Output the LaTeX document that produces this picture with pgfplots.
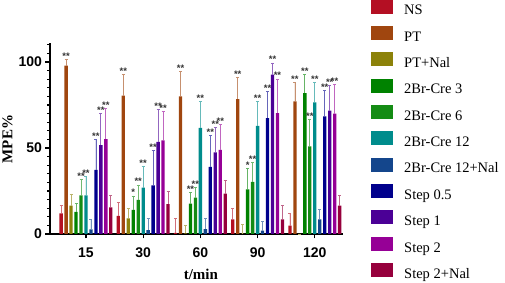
\documentclass[border=0pt]{standalone}
\usepackage{fontspec}
\setmainfont{Liberation Serif}
\setsansfont{Liberation Sans}
\usepackage{pgfplots}
\usepackage{pgfplotstable}
\pgfplotsset{compat=1.18}

\definecolor{cNS}{RGB}{180,15,35}
\definecolor{cPT}{RGB}{160,70,15}
\definecolor{cPN}{RGB}{140,130,10}
\definecolor{cBa}{RGB}{0,130,0}
\definecolor{cBb}{RGB}{20,140,20}
\definecolor{cBc}{RGB}{0,140,140}
\definecolor{cBn}{RGB}{20,70,140}
\definecolor{cSa}{RGB}{0,0,140}
\definecolor{cSb}{RGB}{75,0,150}
\definecolor{cSc}{RGB}{150,0,150}
\definecolor{cSn}{RGB}{150,0,60}

\pgfplotstableread{
g  NS  eNS  PT  ePT  PN  ePN  Ba  eBa  Bb  eBb  Bc  eBc  Bn  eBn  Sa  eSa  Sb  eSb  Sc  eSc  Sn  eSn
0 12.0 4.7 97.9 3.5 16.5 6.8 12.8 4.9 22.5 9.3 22.5 10.9 2.7 5.8 37.3 17.8 51.7 18.2 55.1 18.1 15.5 7.0
1 10.5 7.9 80.4 12.2 9.1 5.7 14.0 8.1 19.8 8.7 27.0 12.2 2.3 6.8 28.2 20.1 53.6 18.6 54.4 16.7 17.3 7.7
2 0.6 8.5 80.0 14.4 0.4 4.5 17.7 6.4 21.2 5.8 61.7 15.4 2.9 6.0 39.0 18.5 47.4 14.7 48.9 14.6 23.5 7.6
3 8.5 6.6 78.4 12.5 0.2 5.4 26.0 11.9 30.3 11.4 62.9 14.2 1.9 5.3 67.4 15.3 92.6 6.8 70.3 19.8 8.5 8.0
4 4.9 7.1 77.1 11.2 0 0 81.9 10.7 50.9 15.5 76.5 11.8 8.5 5.9 68.3 15.2 71.7 14.7 69.9 16.9 16.5 5.8
}\data

\pgfplotstableread{
x y l
-0.3476 101.4 **
-0.0869 31.8 **
0.0 33.4 **
0.1738 55.1 **
0.2607 69.9 **
0.3476 73.2 **
0.6524 92.6 **
0.8262 22.1 *
0.9131 28.5 **
1.0 39.2 **
1.1738 48.3 **
1.2607 72.2 **
1.3476 71.1 **
1.6524 94.4 **
1.8262 24.1 **
1.9131 27.0 **
2.0 77.1 **
2.1738 57.5 **
2.2607 62.1 **
2.3476 63.5 **
2.6524 90.9 **
2.8262 37.9 *
2.9131 41.7 **
3.0 77.1 **
3.1738 82.7 **
3.2607 99.4 **
3.3476 90.1 **
3.6524 88.3 **
3.8262 92.6 **
3.9131 66.4 **
4.0 88.3 **
4.1738 83.5 **
4.2607 86.4 **
4.3476 86.8 **
}\stars

\newcommand{\barplot}[4]{%
\addplot[ybar, bar width=0.058, bar shift=0pt, fill=#1, draw=none, forget plot,
  error bars/.cd, y dir=plus, y explicit,
  error bar style={draw=#1!60!white, line width=0.8pt},
  error mark options={rotate=90, mark size=1.5pt, draw=#1!60!white, line width=0.8pt}]
  table[x expr=\thisrow{g}+#2, y=#3, y error=#4] {\data};}

\begin{document}
\begin{tikzpicture}
\begin{axis}[
  scale only axis, width=293pt, height=191pt,
  xmin=-0.629, xmax=4.493, ymin=0, ymax=111,
  clip=false,
  axis x line*=bottom, axis y line*=left,
  axis line style={line width=1.3pt},
  xtick={0,1,2,3,4}, xticklabels={15,30,60,90,120},
  ytick={0,50,100}, minor ytick={5,10,...,110},
  tick align=outside,
  tick style={line width=1.2pt, black},
  major tick length=4.5pt, minor tick length=2.5pt,
  /pgf/number format/assume math mode=true,
  ticklabel style={font=\fontsize{14}{14}\selectfont\sffamily\bfseries},
  xticklabel style={yshift=-6pt},
  ylabel={MPE\%}, xlabel={t/min},
  label style={font=\fontsize{15}{15}\selectfont\bfseries},
  ylabel style={at={(axis description cs:-0.145,0.497)}, anchor=center},
  xlabel style={at={(axis description cs:0.515,-0.213)}, anchor=center},
  legend image code/.code={\fill[#1] (0pt,-2.2pt) rectangle (22pt,11.8pt);},
  legend style={draw=none, fill=none, inner sep=0pt, at={(axis description cs:1.0956,1.228)}, anchor=north west,
    font=\fontsize{14.5}{14.5}\selectfont, row sep=7.95pt,
    nodes={inner sep=0pt, text height=10pt, text depth=3.2pt},
    /tikz/every odd column/.append style={column sep=11pt}},
  legend cell align=left,
]
\barplot{cNS}{-0.4345}{NS}{eNS}
\barplot{cPT}{-0.3476}{PT}{ePT}
\barplot{cPN}{-0.2607}{PN}{ePN}
\barplot{cBa}{-0.1738}{Ba}{eBa}
\barplot{cBb}{-0.0869}{Bb}{eBb}
\barplot{cBc}{0}{Bc}{eBc}
\barplot{cBn}{0.0869}{Bn}{eBn}
\barplot{cSa}{0.1738}{Sa}{eSa}
\barplot{cSb}{0.2607}{Sb}{eSb}
\barplot{cSc}{0.3476}{Sc}{eSc}
\barplot{cSn}{0.4345}{Sn}{eSn}
\addplot[only marks, mark=none, forget plot, nodes near coords, point meta=explicit symbolic,
  nodes near coords style={anchor=base, inner sep=0pt, font=\fontsize{9.5}{9.5}\selectfont\sffamily\bfseries, text=black!80}]
  table[x=x, y=y, meta=l] {\stars};
\addlegendimage{fill=cNS, draw=none}\addlegendentry{NS}
\addlegendimage{fill=cPT, draw=none}\addlegendentry{PT}
\addlegendimage{fill=cPN, draw=none}\addlegendentry{PT+Nal}
\addlegendimage{fill=cBa, draw=none}\addlegendentry{2Br-Cre 3}
\addlegendimage{fill=cBb, draw=none}\addlegendentry{2Br-Cre 6}
\addlegendimage{fill=cBc, draw=none}\addlegendentry{2Br-Cre 12}
\addlegendimage{fill=cBn, draw=none}\addlegendentry{2Br-Cre 12+Nal}
\addlegendimage{fill=cSa, draw=none}\addlegendentry{Step 0.5}
\addlegendimage{fill=cSb, draw=none}\addlegendentry{Step 1}
\addlegendimage{fill=cSc, draw=none}\addlegendentry{Step 2}
\addlegendimage{fill=cSn, draw=none}\addlegendentry{Step 2+Nal}
\end{axis}
\pgfresetboundingbox
\path (-50pt,-49pt) rectangle (455pt,234pt);
\end{tikzpicture}
\end{document}
